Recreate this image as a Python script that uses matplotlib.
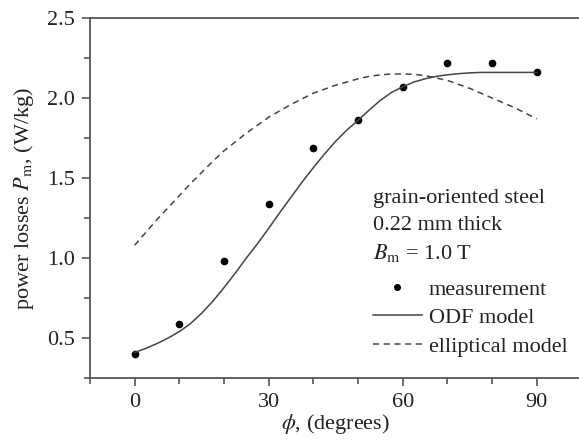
import numpy as np
import matplotlib
matplotlib.use("Agg")
import matplotlib.pyplot as plt
from matplotlib.ticker import MultipleLocator

plt.rcParams['font.family'] = ['Liberation Serif', 'DejaVu Serif']
plt.rcParams['mathtext.fontset'] = 'stix'

# measured losses vs. angle
meas_angle = [0, 10, 20, 30, 40, 50, 60, 70, 80, 90]
meas_loss = [0.40, 0.59, 0.98, 1.34, 1.685, 1.86, 2.07, 2.22, 2.22, 2.16]

# model curves (every 2.5 degrees)
model_angle = [0, 2.5, 5, 7.5, 10, 12.5, 15, 17.5, 20, 22.5, 25, 27.5, 30, 32.5, 35,
               37.5, 40, 42.5, 45, 47.5, 50, 52.5, 55, 57.5, 60, 62.5, 65, 67.5, 70,
               72.5, 75, 77.5, 80, 82.5, 85, 87.5, 90]
odf_loss = [0.41, 0.435, 0.465, 0.50, 0.54, 0.59, 0.655, 0.73, 0.815, 0.905, 1.00,
            1.09, 1.185, 1.285, 1.38, 1.475, 1.565, 1.65, 1.73, 1.80, 1.86, 1.925,
            1.985, 2.035, 2.07, 2.10, 2.12, 2.135, 2.145, 2.152, 2.157, 2.16, 2.16,
            2.16, 2.16, 2.16, 2.16]
ellip_loss = [1.08, 1.16, 1.24, 1.315, 1.39, 1.465, 1.535, 1.605, 1.67, 1.725, 1.78,
              1.83, 1.88, 1.92, 1.96, 1.995, 2.03, 2.055, 2.08, 2.10, 2.12, 2.135,
              2.145, 2.15, 2.15, 2.148, 2.14, 2.125, 2.11, 2.085, 2.06, 2.03, 2.00,
              1.97, 1.94, 1.905, 1.87]

gray = '#555555'
txt = '#222222'

fig = plt.figure(figsize=(5.79, 4.45), dpi=100)
ax = fig.add_axes([90 / 579, 1 - 378 / 445, 491.4 / 579, 360 / 445])

ax.plot(meas_angle, meas_loss, 'o', color='black', markersize=4.5, label='measurement')
ax.plot(model_angle, odf_loss, '-', color='#444444', linewidth=1.1, label='ODF model')
ax.plot(model_angle, ellip_loss, '--', color='#444444', linewidth=1.1,
        dashes=(4, 3), label='elliptical model')

ax.set_xlim(-10, 100)
ax.set_ylim(0.25, 2.5)
ax.xaxis.set_major_locator(MultipleLocator(30))
ax.xaxis.set_minor_locator(MultipleLocator(10))
ax.yaxis.set_major_locator(MultipleLocator(0.5))
ax.yaxis.set_minor_locator(MultipleLocator(0.25))
ax.yaxis.set_major_formatter(plt.FormatStrFormatter('%.1f'))

ax.spines['right'].set_visible(False)
for s in ['left', 'top', 'bottom']:
    ax.spines[s].set_color(gray)
    ax.spines[s].set_linewidth(1.3)
ax.tick_params(which='both', direction='out', color=gray, width=1.2,
               labelsize=16, labelcolor=txt, top=False, right=False)
ax.tick_params(which='major', length=6, pad=5)
ax.tick_params(which='minor', length=4)

ax.set_xlabel(r'$\phi$, (degrees)', fontsize=16, color=txt, labelpad=0)
ax.set_ylabel(r'power losses $P_{\rm m}$, (W/kg)', fontsize=16, color=txt, labelpad=8)

# annotation block
tx = 373 / 579
fig.text(tx, 1 - 198 / 445, 'grain-oriented steel', fontsize=16, color=txt, va='center')
fig.text(tx, 1 - 226 / 445, '0.22 mm thick', fontsize=16, color=txt, va='center')
fig.text(tx, 1 - 253 / 445, r'$B_{\rm m}$ = 1.0 T', fontsize=16, color=txt, va='center')

leg = ax.legend(loc='upper left', bbox_to_anchor=(373 / 579, 1 - 279 / 445),
                bbox_transform=fig.transFigure, frameon=False, fontsize=16,
                handlelength=2.2, handletextpad=0.3, labelspacing=0.36,
                borderpad=0, borderaxespad=0, markerscale=0.9)
for t in leg.get_texts():
    t.set_color(txt)

fig.savefig('out.png', dpi=100)
